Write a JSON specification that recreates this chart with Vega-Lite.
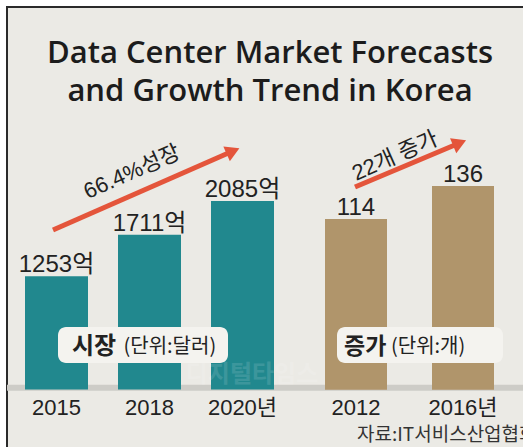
{
  "$schema": "https://vega.github.io/schema/vega-lite/v6.json",
  "width": 520,
  "height": 445,
  "autosize": "none",
  "padding": {"left": 7, "top": 7, "right": 0, "bottom": 0},
  "background": "#ffffff",
  "config": {
    "view": {"fill": "#ebeae5", "stroke": "#2a2a2a", "strokeWidth": 2},
    "text": {"color": "#222222"}
  },
  "title": {
    "text": ["Data Center Market Forecasts", "and Growth Trend in Korea"],
    "fontSize": 31,
    "font": "Open Sans",
    "fontWeight": 600,
    "color": "#1c1c1c",
    "lineHeight": 38,
    "anchor": "middle",
    "offset": -101,
    "dx": 3
  },
  "layer": [
    {
      "layer": [
        {
          "data": {"values": [{"v": 20}]},
          "mark": {"type": "rule", "color": "#cdccc7", "strokeWidth": 6},
          "encoding": {
            "y": {"field": "v", "type": "quantitative", "scale": {"domain": [-690, 4230], "nice": false, "zero": false}, "axis": null}
          }
        },
        {
          "data": {"values": [
            {"year": "2015", "value": 1253, "label": "1253억"},
            {"year": "2018", "value": 1711, "label": "1711억"},
            {"year": "2020년", "value": 2085, "label": "2085억"}
          ]},
          "encoding": {
            "x": {"field": "year", "type": "nominal", "sort": null,
              "scale": {"domain": ["2015", "2018", "2020년"], "range": [18, 267], "paddingInner": 0.3226, "paddingOuter": 0},
              "axis": {"orient": "bottom", "offset": -62, "title": null, "ticks": false, "domain": false, "labelAngle": 0,
                "labelFont": "Liberation Sans, Noto Sans CJK KR", "labelFontSize": 22, "labelColor": "#222222", "labelPadding": 7}},
            "y": {"field": "value", "type": "quantitative", "scale": {"domain": [-690, 4230], "nice": false, "zero": false}, "axis": null}
          },
          "layer": [
            {"mark": {"type": "bar", "color": "#21888e"}},
            {"mark": {"type": "text", "baseline": "alphabetic", "dy": -4, "fontSize": 24, "font": "Liberation Sans, Noto Sans CJK KR"},
              "encoding": {"text": {"field": "label"}}}
          ]
        },
        {
          "data": {"values": [{"year": "2015", "v": 1765, "year2": "2020년", "v2": 2638}]},
          "mark": {"type": "rule", "color": "#e4553b", "strokeWidth": 5, "xOffset": -3.5, "x2Offset": -9.5},
          "encoding": {
            "x": {"field": "year", "type": "nominal"},
            "x2": {"field": "year2"},
            "y": {"field": "v", "type": "quantitative"},
            "y2": {"field": "v2"}
          }
        },
        {
          "data": {"values": [{"year": "2020년", "v": 2638}]},
          "mark": {"type": "point", "shape": "triangle-up", "filled": true, "opacity": 1, "color": "#e4553b", "size": 260, "angle": 66.3, "xOffset": -9.5},
          "encoding": {
            "x": {"field": "year", "type": "nominal"},
            "y": {"field": "v", "type": "quantitative"}
          }
        },
        {
          "data": {"values": [{"year": "2018", "v": 2406, "label": "66.4%성장"}]},
          "mark": {"type": "text", "angle": -24, "fontSize": 22, "font": "Liberation Sans, Noto Sans CJK KR", "xOffset": -17.5, "baseline": "middle", "align": "center"},
          "encoding": {
            "x": {"field": "year", "type": "nominal"},
            "y": {"field": "v", "type": "quantitative"},
            "text": {"field": "label"}
          }
        },
        {
          "data": {"values": [{"year": "2020년", "v": 183, "label": "디지털타임스"}]},
          "mark": {"type": "text", "align": "center", "baseline": "middle", "fontSize": 24, "fontWeight": "bold", "font": "Noto Sans CJK KR", "color": "#ffffff", "opacity": 0.12, "xOffset": 9.5, "dy": 2},
          "encoding": {
            "x": {"field": "year", "type": "nominal"},
            "y": {"field": "v", "type": "quantitative"},
            "text": {"field": "label"}
          }
        },
        {
          "data": {"values": [{"year": "2015", "year2": "2020년", "v": 294, "v2": 692}]},
          "mark": {"type": "rect", "color": "#f4f3ef", "cornerRadius": 8, "xOffset": 1.5, "x2Offset": -14.5},
          "encoding": {
            "x": {"field": "year", "type": "nominal", "bandPosition": 0.5},
            "x2": {"field": "year2"},
            "y": {"field": "v", "type": "quantitative"},
            "y2": {"field": "v2"}
          }
        },
        {
          "data": {"values": [{"year": "2015", "v": 471, "label": "시장"}]},
          "mark": {"type": "text", "align": "left", "baseline": "middle", "fontSize": 24, "fontWeight": "bold", "font": "Noto Sans CJK KR", "xOffset": 15.5},
          "encoding": {
            "x": {"field": "year", "type": "nominal"},
            "y": {"field": "v", "type": "quantitative"},
            "text": {"field": "label"}
          }
        },
        {
          "data": {"values": [{"year": "2018", "v": 471, "label": "(단위:달러)"}]},
          "mark": {"type": "text", "align": "left", "baseline": "middle", "fontSize": 20, "font": "Noto Sans CJK KR", "xOffset": -26},
          "encoding": {
            "x": {"field": "year", "type": "nominal"},
            "y": {"field": "v", "type": "quantitative"},
            "text": {"field": "label"}
          }
        }
      ]
    },
    {
      "layer": [
        {
          "data": {"values": [
            {"year": "2012", "value": 114, "label": "114"},
            {"year": "2016년", "value": 136, "label": "136"}
          ]},
          "encoding": {
            "x": {"field": "year", "type": "nominal", "sort": null,
              "scale": {"domain": ["2012", "2016년"], "range": [318, 487], "paddingInner": 0.4206, "paddingOuter": 0},
              "axis": {"orient": "bottom", "offset": -62, "title": null, "ticks": false, "domain": false, "labelAngle": 0,
                "labelFont": "Liberation Sans, Noto Sans CJK KR", "labelFontSize": 22, "labelColor": "#222222", "labelPadding": 7}},
            "y": {"field": "value", "type": "quantitative", "scale": {"domain": [-41.5, 255.5], "nice": false, "zero": false}, "axis": null}
          },
          "layer": [
            {"mark": {"type": "bar", "color": "#b0956b"}},
            {"mark": {"type": "text", "baseline": "alphabetic", "dy": -4, "fontSize": 24, "font": "Liberation Sans, Noto Sans CJK KR"},
              "encoding": {"text": {"field": "label"}}}
          ]
        },
        {
          "data": {"values": [{"year": "2012", "v": 135.4, "year2": "2016년", "v2": 164.7}]},
          "mark": {"type": "rule", "color": "#e4553b", "strokeWidth": 5, "xOffset": -1, "x2Offset": -3.4},
          "encoding": {
            "x": {"field": "year", "type": "nominal"},
            "x2": {"field": "year2"},
            "y": {"field": "v", "type": "quantitative"},
            "y2": {"field": "v2"}
          }
        },
        {
          "data": {"values": [{"year": "2016년", "v": 164.7}]},
          "mark": {"type": "point", "shape": "triangle-up", "filled": true, "opacity": 1, "color": "#e4553b", "size": 260, "angle": 67.2, "xOffset": -3.4},
          "encoding": {
            "x": {"field": "year", "type": "nominal"},
            "y": {"field": "v", "type": "quantitative"}
          }
        },
        {
          "data": {"values": [{"year": "2012", "v": 156.1, "label": "22개 증가"}]},
          "mark": {"type": "text", "angle": -24, "fontSize": 22, "font": "Liberation Sans, Noto Sans CJK KR", "xOffset": 39, "baseline": "middle", "align": "center"},
          "encoding": {
            "x": {"field": "year", "type": "nominal"},
            "y": {"field": "v", "type": "quantitative"},
            "text": {"field": "label"}
          }
        },
        {
          "data": {"values": [{"year": "2012", "year2": "2016년", "v": 17.9, "v2": 41.9}]},
          "mark": {"type": "rect", "color": "#f4f3ef", "cornerRadius": 8, "xOffset": -19, "x2Offset": 40},
          "encoding": {
            "x": {"field": "year", "type": "nominal", "bandPosition": 0.5},
            "x2": {"field": "year2"},
            "y": {"field": "v", "type": "quantitative"},
            "y2": {"field": "v2"}
          }
        },
        {
          "data": {"values": [{"year": "2012", "v": 28.6, "label": "증가"}]},
          "mark": {"type": "text", "align": "left", "baseline": "middle", "fontSize": 23, "fontWeight": "bold", "font": "Noto Sans CJK KR", "xOffset": -12},
          "encoding": {
            "x": {"field": "year", "type": "nominal"},
            "y": {"field": "v", "type": "quantitative"},
            "text": {"field": "label"}
          }
        },
        {
          "data": {"values": [{"year": "2012", "v": 28.6, "label": "(단위:개)"}]},
          "mark": {"type": "text", "align": "left", "baseline": "middle", "fontSize": 20, "font": "Noto Sans CJK KR", "xOffset": 35},
          "encoding": {
            "x": {"field": "year", "type": "nominal"},
            "y": {"field": "v", "type": "quantitative"},
            "text": {"field": "label"}
          }
        },
        {
          "data": {"values": [{"year": "2012", "v": -30, "label": "자료:IT서비스산업협회"}]},
          "mark": {"type": "text", "align": "left", "baseline": "middle", "fontSize": 19, "font": "Noto Sans CJK KR", "color": "#333333", "xOffset": 1},
          "encoding": {
            "x": {"field": "year", "type": "nominal"},
            "y": {"field": "v", "type": "quantitative"},
            "text": {"field": "label"}
          }
        }
      ]
    }
  ],
  "resolve": {"scale": {"x": "independent", "y": "independent"}, "axis": {"x": "independent", "y": "independent"}}
}
